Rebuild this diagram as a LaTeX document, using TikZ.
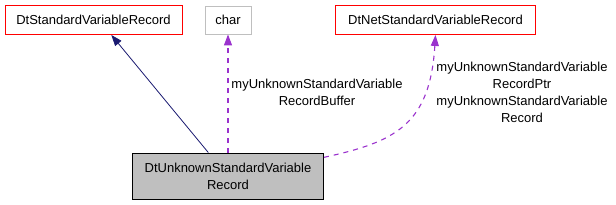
\documentclass[tikz,border=0pt]{standalone}
\usepackage{fontspec}
\setmainfont{Liberation Sans}
\usepackage{tikz}
\usetikzlibrary{arrows.meta}
\definecolor{edgered}{HTML}{FF0000}
\definecolor{edgegray}{HTML}{BFBFBF}
\definecolor{inhnavy}{HTML}{191970}
\definecolor{usepurple}{HTML}{9A32CD}

\begin{document}
\begin{tikzpicture}[
    x=1pt, y=-1pt,
    every node/.style={font=\fontsize{13}{17}\selectfont},
    cls/.style={draw=edgered, fill=white, line width=0.9pt, inner sep=0pt, align=center},
    plain/.style={draw=edgegray, fill=white, line width=0.9pt, inner sep=0pt, align=center},
    cur/.style={draw=black, fill=edgegray, line width=0.9pt, inner sep=0pt, align=center},
    inh/.style={-{Triangle[length=11pt,width=8pt]}, line width=0.8pt, inhnavy},
    dep/.style={-{Triangle[length=11pt,width=8pt]}, line width=1.1pt, usepurple, dash pattern=on 5pt off 5pt},
    lbl/.style={align=center, inner sep=0pt}
  ]
    \useasboundingbox (0,0) rectangle (616,205);
    \node[cls, minimum width=177pt, minimum height=29pt] (std) at (93.5,20) {DtStandardVariableRecord};
    \node[plain, minimum width=46pt, minimum height=28pt] (chr) at (228,20) {char};
    \node[cls, minimum width=200pt, minimum height=29pt] (net) at (435.5,20) {DtNetStandardVariableRecord};
    \node[cur, minimum width=191pt, minimum height=46pt] (unk) at (228,176) {DtUnknownStandardVariable\\Record};
    \draw[inh] (unk.130) -- (std.-40);
    \draw[dep] (unk.north) -- (chr.south);
    \draw[dep] (unk.11) .. controls (395,142) and (430,125) .. (net.south);
    \node[lbl] (bufl) at (317,92) {myUnknownStandardVariable\\RecordBuffer};
    \node[lbl] (ptrl) at (522,92) {myUnknownStandardVariable\\RecordPtr\\myUnknownStandardVariable\\Record};
\end{tikzpicture}
\end{document}
